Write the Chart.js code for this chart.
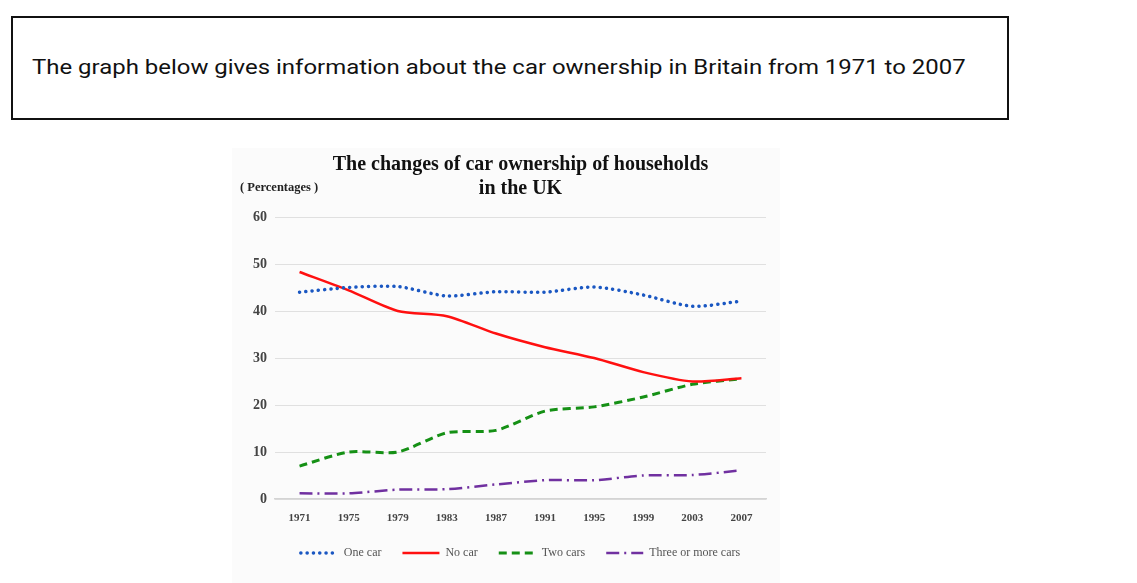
<!DOCTYPE html>
<html>
<head>
<meta charset="utf-8">
<script src="https://cdn.jsdelivr.net/npm/chart.js@4.4.1/dist/chart.umd.min.js"></script>
<style>
  html, body { margin: 0; padding: 0; background: #fff; width: 1137px; height: 583px; overflow: hidden; }
  #intro { position: absolute; left: 11px; top: 16px; width: 994px; height: 100px; border: 2px solid #111; }
  #intro p { margin: 0; position: absolute; left: 19px; top: 37px; font: 21px Roboto, sans-serif; color: #111; white-space: nowrap;
    transform: scaleX(1.14); transform-origin: left center; }
  #wrap { position: absolute; left: 232px; top: 148px; width: 548px; height: 435px; background: #fbfbfb; }
</style>
</head>
<body>
<div id="intro"><p>The graph below gives information about the car ownership in Britain from 1971 to 2007</p></div>
<div id="wrap"><canvas id="ch"></canvas></div>
<script>
// years on the x axis
const YEARS = ["1971", "1975", "1979", "1983", "1987", "1991", "1995", "1999", "2003", "2007"];
// % of households
const ONE_CAR   = [44, 45, 45.2, 43.2, 44.1, 44, 45.1, 43.4, 41, 42.1];
const NO_CAR    = [48.3, 44.4, 40, 38.9, 35.2, 32.3, 30, 27, 25, 25.7];
const TWO_CARS  = [7, 10, 10, 14.1, 14.6, 18.7, 19.6, 21.7, 24.4, 25.6];
const THREE_UP  = [1.2, 1.2, 2, 2.1, 3.1, 4, 4, 5, 5.1, 6.1];
const Y_TICKS   = [0, 10, 20, 30, 40, 50, 60];

const SERIF = "'Liberation Serif', 'Times New Roman', serif";

const percentLabel = {
  id: "percentLabel",
  afterDraw(c) {
    const ctx = c.ctx;
    ctx.save();
    ctx.font = "bold 12.5px " + SERIF;
    ctx.fillStyle = "#222";
    ctx.textBaseline = "middle";
    ctx.textAlign = "left";
    ctx.fillText("( Percentages )", 8, 40);
    ctx.restore();
  }
};

// legend items: keep each dataset's dash pattern and width
function legendItems(chart) {
  const items = Chart.defaults.plugins.legend.labels.generateLabels(chart);
  items.forEach(it => {
    const ds = chart.data.datasets[it.datasetIndex];
    it.lineDash = ds.borderDash || [];
    it.lineWidth = ds.borderWidth;
    it.lineCap = ds.borderCapStyle || "butt";
    it.strokeStyle = ds.borderColor;
    it.fillStyle = ds.borderColor;
    it.pointStyle = "line";
  });
  return items;
}

new Chart(document.getElementById("ch"), {
  type: "line",
  data: { labels: YEARS, datasets: [
    { label: "One car", data: ONE_CAR, borderColor: "#1a57c2", borderWidth: 3.5, borderDash: [0.1, 6.2], borderCapStyle: "round", tension: .25, pointRadius: 0 },
    { label: "No car", data: NO_CAR, borderColor: "#ff1010", borderWidth: 2.5, tension: .25, pointRadius: 0 },
    { label: "Two cars", data: TWO_CARS, borderColor: "#159015", borderWidth: 3, borderDash: [8, 5], tension: .25, pointRadius: 0 },
    { label: "Three or more cars", data: THREE_UP, borderColor: "#7030a0", borderWidth: 2.5, borderDash: [13, 5, 2, 5], tension: .25, pointRadius: 0 }
  ] },
  options: {
    responsive: true, maintainAspectRatio: false, animation: false,
    layout: { padding: { left: 43, right: 14, top: 0, bottom: 14 } },
    plugins: {
      title: { display: true, text: ["The changes of car ownership of households", "in the UK"], color: "#111",
        font: { family: SERIF, size: 20, weight: "bold", lineHeight: 1.2 }, padding: { top: 5, bottom: 16 } },
      legend: { position: "bottom", labels: { usePointStyle: true, pointStyle: "line", pointStyleWidth: 37, boxHeight: 8,
        color: "#555", padding: 21, font: { family: SERIF, size: 12 }, generateLabels: legendItems } },
      tooltip: { enabled: false }
    },
    scales: {
      x: { offset: true, grid: { display: false }, border: { color: "#d4d4d4", width: 1.5 },
        ticks: { color: "#444", padding: 5, font: { family: SERIF, size: 11, weight: "bold" } },
        afterFit: s => { s.height = 27; } },
      y: { min: 0, max: 60, afterBuildTicks: s => { s.ticks = Y_TICKS.map(v => ({ value: v })); },
        grid: { color: "#e0e0e0", drawTicks: false }, border: { display: false },
        ticks: { color: "#444", padding: 8, font: { family: SERIF, size: 14, weight: "bold" } },
        // zero-width axis so title/legend centre like the original; labels sit in the left padding, so no clip
        afterFit: s => { s.width = 0; s._computeLabelArea = () => undefined; } }
    }
  },
  plugins: [percentLabel]
});
</script>
</body>
</html>
